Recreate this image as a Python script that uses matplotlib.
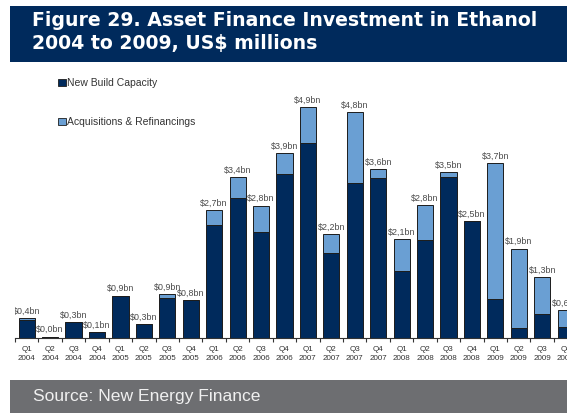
import matplotlib
matplotlib.use('Agg')
import matplotlib.pyplot as plt
from matplotlib.patches import Rectangle, Patch
import numpy as np

# ---- data (US$ bn) ----
quarters = ['Q1', 'Q2', 'Q3', 'Q4'] * 6
years = [str(y) for y in range(2004, 2010) for _ in range(4)]
new_build = [0.38, 0.03, 0.33, 0.13, 0.90, 0.30, 0.84, 0.80,
             2.40, 2.97, 2.24, 3.48, 4.15, 1.81, 3.29, 3.39,
             1.42, 2.08, 3.41, 2.48, 0.83, 0.22, 0.50, 0.23]
acquisitions = [0.04, 0.00, 0.00, 0.00, 0.00, 0.00, 0.09, 0.00,
                0.31, 0.45, 0.57, 0.44, 0.75, 0.40, 1.50, 0.20,
                0.68, 0.74, 0.12, 0.00, 2.89, 1.68, 0.80, 0.36]
series_names = ['New Build Capacity', 'Acquisitions & Refinancings']

NAVY = '#002a5c'
LIGHT = '#6a9fd3'
FONT = 'Liberation Sans'
plt.rcParams['font.family'] = [FONT, 'DejaVu Sans']

W, H = 567, 416
fig = plt.figure(figsize=(W / 100, H / 100), dpi=100)
fig.patch.set_facecolor('white')

# title bar
fig.patches.append(Rectangle((10 / W, 1 - 62 / H), 1 - 10 / W, 56 / H,
                             transform=fig.transFigure, facecolor=NAVY,
                             edgecolor='none', zorder=0))
for yy, line in [(21, 'Figure 29. Asset Finance Investment in Ethanol'),
                 (44, '2004 to 2009, US$ millions')]:
    fig.text(32 / W, 1 - yy / H, line, color='white', fontsize=13.55,
             fontweight='bold', family=['DejaVu Sans'], va='center', ha='left')

# source bar
fig.patches.append(Rectangle((10 / W, 1 - 413 / H), 1 - 10 / W, 33 / H,
                             transform=fig.transFigure, facecolor='#6d6e71',
                             edgecolor='none', zorder=0))
fig.text(33 / W, 1 - 396.5 / H, 'Source: New Energy Finance',
         color='#f0f0f0', fontsize=12.6, va='center', ha='left')

# axes
cat_w = 23.43
x_left = 15
base_y = 338
top_y = 65
px_per_bn = 47.1
ax = fig.add_axes([x_left / W, 1 - base_y / H, 1 - x_left / W, (base_y - top_y) / H])

x = np.arange(len(new_build))
nb = np.array(new_build)
aq = np.array(acquisitions)
bw = 0.69
ax.bar(x, nb, width=bw, color=NAVY, edgecolor='#1c1c1c', linewidth=0.7,
       label=series_names[0], zorder=2)
ax.bar(x, aq, width=bw, bottom=nb, color=LIGHT, edgecolor='#1c1c1c',
       linewidth=0.7, label=series_names[1], zorder=2)

totals = nb + aq
for xi, t in zip(x, totals):
    lab = ('$%.1fbn' % t).replace('.', ',')
    ax.text(xi, t + 0.05, lab, ha='center', va='bottom', fontsize=6.4,
            color='#4a4a4a', clip_on=True)

for s in ['top', 'right', 'left']:
    ax.spines[s].set_visible(False)
ax.spines['bottom'].set_color('#333333')
ax.spines['bottom'].set_linewidth(0.8)
ax.set_yticks([])
ax.set_xticks(x)
ax.set_xticklabels([f'{q}\n{y}' for q, y in zip(quarters, years)],
                   fontsize=5.8, color='#333333', linespacing=1.45)
ax.tick_params(axis='x', which='major', length=0, pad=5.5)
ax.set_xticks(np.arange(-0.5, len(x), 1.0), minor=True)
ax.tick_params(axis='x', which='minor', length=3, width=0.8, color='#333333')

# limits after ticks (set_xticks may widen them)
ax.set_xlim(-0.5, -0.5 + (W - x_left) / cat_w)
ax.set_ylim(0, (base_y - top_y) / px_per_bn)

handles = [Patch(facecolor=NAVY, edgecolor='#1c1c1c', linewidth=0.6),
           Patch(facecolor=LIGHT, edgecolor='#1c1c1c', linewidth=0.6)]
leg = fig.legend(handles, series_names, loc='upper left',
                 bbox_to_anchor=(53 / W, 1 - 73 / H), frameon=False,
                 fontsize=7.5, handlelength=0.7, handleheight=0.7,
                 handletextpad=0.15, labelspacing=2.75, borderpad=0,
                 labelcolor='#333333')

fig.savefig('out.png', dpi=100)
